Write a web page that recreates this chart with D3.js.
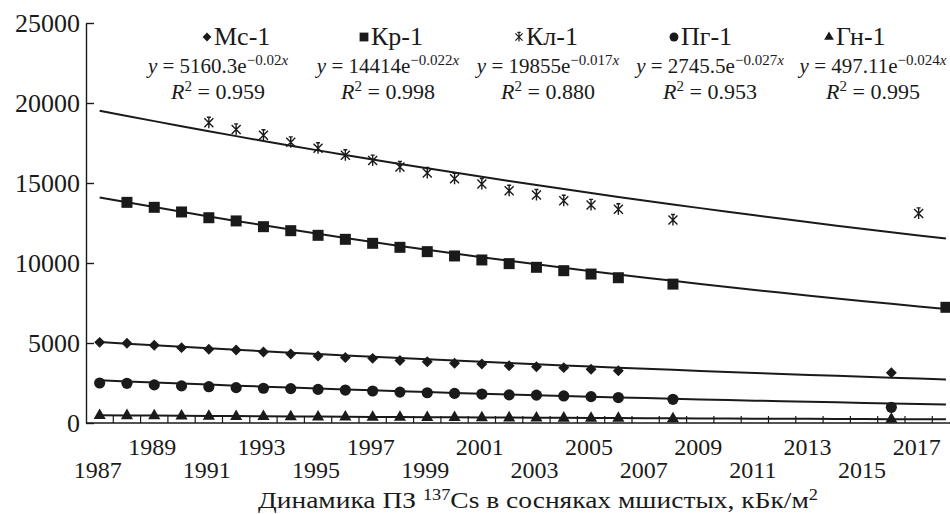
<!DOCTYPE html>
<html>
<head>
<meta charset="utf-8">
<script src="https://cdn.jsdelivr.net/npm/d3@7"></script>
<style>
  body { margin: 0; background: #fff; }
  svg { display: block; }
</style>
</head>
<body>
<div id="app"></div>
<script>
// categories on the x axis (one band per year)
const years = [1987, 1988, 1989, 1990, 1991, 1992, 1993, 1994, 1995, 1996, 1997, 1998, 1999, 2000,
  2001, 2002, 2003, 2004, 2005, 2006, 2007, 2008, 2009, 2010, 2011, 2012, 2013, 2014, 2015, 2016, 2017, 2018]
const yearLabels = [1987, 1989, 1991, 1993, 1995, 1997, 1999, 2001, 2003, 2005, 2007, 2009, 2011, 2013, 2015, 2017]
const yTicks = [0, 5000, 10000, 15000, 20000, 25000]

// Мс-1
const mcYears = [1987, 1988, 1989, 1990, 1991, 1992, 1993, 1994, 1995, 1996, 1997, 1998, 1999, 2000, 2001, 2002, 2003, 2004, 2005, 2006, 2016]
const mcValues = [5040, 4980, 4860, 4710, 4610, 4560, 4440, 4310, 4190, 4100, 4040, 3900, 3830, 3730, 3690, 3580, 3520, 3460, 3360, 3270, 3140]
// Кр-1
const krYears = [1988, 1989, 1990, 1991, 1992, 1993, 1994, 1995, 1996, 1997, 1998, 1999, 2000, 2001, 2002, 2003, 2004, 2005, 2006, 2008, 2018]
const krValues = [13790, 13480, 13190, 12830, 12630, 12270, 12020, 11730, 11480, 11230, 10980, 10710, 10440, 10190, 9960, 9730, 9520, 9310, 9080, 8680, 7230]
// Кл-1
const klYears = [1991, 1992, 1993, 1994, 1995, 1996, 1997, 1998, 1999, 2000, 2001, 2002, 2003, 2004, 2005, 2006, 2008, 2017]
const klValues = [18770, 18350, 17980, 17540, 17170, 16730, 16400, 16000, 15630, 15270, 14940, 14520, 14250, 13890, 13630, 13360, 12690, 13100]
// Пг-1
const pgYears = [1987, 1988, 1989, 1990, 1991, 1992, 1993, 1994, 1995, 1996, 1997, 1998, 1999, 2000, 2001, 2002, 2003, 2004, 2005, 2006, 2008, 2016]
const pgValues = [2500, 2480, 2380, 2320, 2270, 2210, 2170, 2150, 2100, 2060, 2000, 1930, 1890, 1850, 1810, 1760, 1740, 1690, 1650, 1590, 1480, 980]
// Гн-1
const gnYears = [1987, 1988, 1989, 1990, 1991, 1992, 1993, 1994, 1995, 1996, 1997, 1998, 1999, 2000, 2001, 2002, 2003, 2004, 2005, 2006, 2008, 2016]
const gnValues = [470, 460, 450, 440, 420, 410, 400, 390, 380, 370, 360, 355, 345, 340, 330, 320, 315, 305, 300, 290, 270, 230]

// exponential trend lines y = a*e^(-b*x), x = category number
const seriesNames = ['Мс-1', 'Кр-1', 'Кл-1', 'Пг-1', 'Гн-1']
const trendA = [5160.3, 14414, 19855, 2745.5, 497.11]
const trendB = [0.02, 0.022, 0.017, 0.027, 0.024]
const trendR2 = ['0.959', '0.998', '0.880', '0.953', '0.995']

const series = [
  {years: mcYears, values: mcValues, marker: 'diamond'},
  {years: krYears, values: krValues, marker: 'square'},
  {years: klYears, values: klValues, marker: 'star'},
  {years: pgYears, values: pgValues, marker: 'circle'},
  {years: gnYears, values: gnValues, marker: 'triangle'},
]

const font = '"Liberation Serif", monospace'
const width = 950, height = 514
const svg = d3.select('#app').append('svg')
  .attr('width', width).attr('height', height)
  .attr('viewBox', [0, 0, width, height])

const plotLeft = 86, plotBottom = 423, plotTop = 23
const band = 27.3
const x = d3.scaleBand().domain(years).range([plotLeft, plotLeft + band * years.length]).padding(0)
const y = d3.scaleLinear().domain([0, 25000]).range([plotBottom, plotTop])
const cx = yr => x(yr) + x.bandwidth() / 2
const ink = '#1a1a1a'

function label(sel, size) {
  return sel.attr('font-family', font).attr('font-size', size).attr('fill', ink)
}

// y axis, ticks pointing inward
const yAxis = svg.append('g').attr('transform', `translate(${plotLeft},0)`)
  .call(d3.axisLeft(y).tickValues(yTicks).tickSizeInner(-8).tickSizeOuter(0).tickPadding(6).tickFormat(d3.format('d')))
yAxis.attr('font-family', font)
yAxis.select('.domain').attr('stroke', ink).attr('stroke-width', 1.4)
yAxis.selectAll('.tick line').attr('stroke', ink).attr('stroke-width', 1.4)
label(yAxis.selectAll('.tick text'), 26)

// x axis: category ticks between years, labels on two rows
const xAxis = svg.append('g')
xAxis.append('line').attr('x1', plotLeft).attr('x2', width).attr('y1', plotBottom).attr('y2', plotBottom)
  .attr('stroke', ink).attr('stroke-width', 1.4)
xAxis.selectAll('line.tk').data(years.slice(1)).enter().append('line').attr('class', 'tk')
  .attr('x1', d => x(d)).attr('x2', d => x(d)).attr('y1', plotBottom).attr('y2', plotBottom - 7)
  .attr('stroke', ink).attr('stroke-width', 1.2)
label(xAxis.selectAll('text').data(yearLabels).enter().append('text'), 24)
  .attr('x', d => cx(d) - 2)
  .attr('y', (d, i) => i % 2 === 0 ? 478 : 455)
  .attr('text-anchor', 'middle')
  .text(d => d)

// trend lines
const trendLine = d3.line().x(d => cx(d[0])).y(d => y(d[1]))
series.forEach((s, i) => {
  const pts = years.map((yr, k) => [yr, trendA[i] * Math.exp(-trendB[i] * (k + 1))])
  svg.append('path').attr('d', trendLine(pts))
    .attr('fill', 'none').attr('stroke', ink).attr('stroke-width', 2)
})

// markers
function markerPath(type, scale) {
  const k = scale || 1
  if (type === 'diamond') return d3.symbol(d3.symbolSquare, 60 * k * k)()
  if (type === 'square') return d3.symbol(d3.symbolSquare, 121 * k * k)()
  if (type === 'circle') return d3.symbol(d3.symbolCircle, 98 * k * k)()
  if (type === 'triangle') return d3.symbol(d3.symbolTriangle, 64 * k * k)()
  const r = 4.5 * k
  return `M${-r},${-r}L${r},${r}M${-r},${r}L${r},${-r}M0,${-r - 1}L0,${r + 1}M${-2 * k},${-r - 1}L${2 * k},${-r - 1}`
}
series.forEach(s => {
  const g = svg.append('g')
  g.selectAll('path').data(s.years.map((yr, k) => [yr, s.values[k]])).enter().append('path')
    .attr('d', markerPath(s.marker))
    .attr('transform', d => `translate(${cx(d[0])},${y(d[1])})` + (s.marker === 'diamond' ? ' rotate(45)' : ''))
    .attr('fill', s.marker === 'star' ? 'none' : ink)
    .attr('stroke', s.marker === 'star' ? ink : 'none')
    .attr('stroke-width', 1.4)
})

// legend with equations
const nameX = [207, 364, 519, 674, 829]
const eqX = [218, 388, 548, 710, 873]
series.forEach((s, i) => {
  svg.append('path').attr('d', markerPath(s.marker, 0.8))
    .attr('transform', `translate(${nameX[i]},37)` + (s.marker === 'diamond' ? ' rotate(45)' : ''))
    .attr('fill', s.marker === 'star' ? 'none' : ink)
    .attr('stroke', s.marker === 'star' ? ink : 'none').attr('stroke-width', 1.2)
  label(svg.append('text'), 26).attr('x', nameX[i] + 7).attr('y', 45).text(seriesNames[i])

  const eq = label(svg.append('text'), 21).attr('x', eqX[i]).attr('y', 73).attr('text-anchor', 'middle')
  eq.append('tspan').attr('font-style', 'italic').text('y')
  eq.append('tspan').text(` = ${trendA[i]}e`)
  eq.append('tspan').attr('dy', -8).attr('font-size', 15).text(`\u2212${trendB[i]}`)
  eq.append('tspan').attr('font-size', 15).attr('font-style', 'italic').text('x')

  const r2 = label(svg.append('text'), 22).attr('x', eqX[i]).attr('y', 99).attr('text-anchor', 'middle')
  r2.append('tspan').attr('font-style', 'italic').text('R')
  r2.append('tspan').attr('dy', -8).attr('font-size', 15).text('2')
  r2.append('tspan').attr('dy', 8).text(` = ${trendR2[i]}`)
})

// axis title
const title = label(svg.append('text'), 24).attr('x', 538).attr('y', 508).attr('text-anchor', 'middle')
  .attr('textLength', 560).attr('lengthAdjust', 'spacingAndGlyphs')
title.append('tspan').text('Динамика ПЗ ')
title.append('tspan').attr('dy', -8).attr('font-size', 16).text('137')
title.append('tspan').attr('dy', 8).text('Cs в сосняках мшистых, кБк/м')
title.append('tspan').attr('dy', -8).attr('font-size', 16).text('2')
</script>
</body>
</html>
